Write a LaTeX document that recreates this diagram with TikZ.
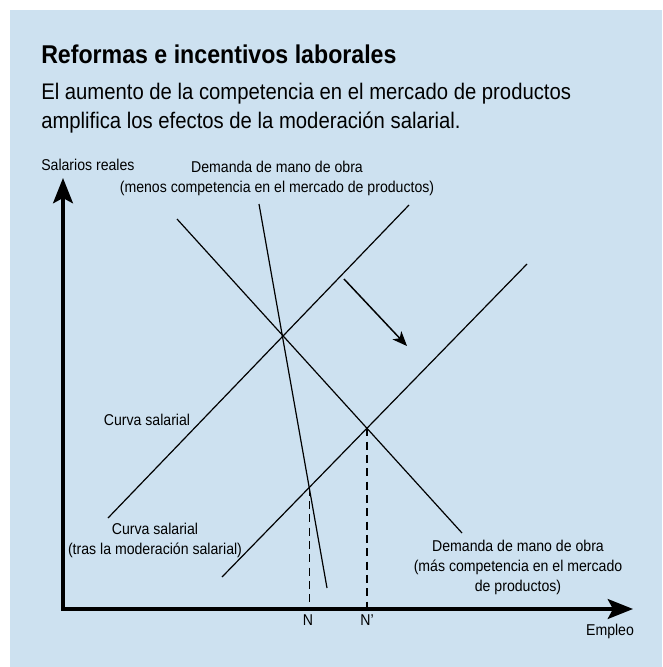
\documentclass[tikz,border=0pt]{standalone}
\usepackage{fontspec}
\setmainfont{Liberation Sans}[FakeStretch=0.9]
\usetikzlibrary{arrows.meta,intersections}
\definecolor{panelblue}{RGB}{205,225,240}
\tikzset{
  curve/.style={line width=0.9pt},
  axisline/.style={line width=2.3pt,{Stealth[length=19pt,width=15pt,inset=4pt]}-{Stealth[length=19pt,width=15pt,inset=4pt]}},
  shiftarrow/.style={line width=1.1pt,-{Stealth[length=11pt,width=9pt,inset=3pt]}},
  guide/.style={line width=0.9pt,dash pattern=on 6pt off 4pt},
  lbl/.style={inner sep=0pt,font=\fontsize{11.75}{15}\selectfont,align=center}
}
\begin{document}
\begin{tikzpicture}[x=0.75pt,y=0.75pt,yscale=-1,xscale=1]
    \useasboundingbox (0,0) rectangle (662,667);
    % panel
    \fill[panelblue] (10,10) rectangle (662,667);
    % Text Node
    \node[anchor=base west,inner sep=0pt,font=\fontsize{19.3}{23}\selectfont\bfseries] (title) at (41,64) {Reformas e incentivos laborales};
    % Text Node (base = last line)
    \node[anchor=base west,inner sep=0pt,align=left,font=\fontsize{16.9}{21.75}\selectfont] (intro) at (41,128) {El aumento de la competencia en el mercado de productos\\amplifica los efectos de la moderación salarial.};
    % axes
    \coordinate (origin) at (63,609);
    \coordinate (ytip) at (63,178);
    \coordinate (xtip) at (633,609);
    \draw[axisline] (ytip) -- (origin) -- (xtip);
    % Shape: demand and wage lines
    \coordinate (dsteepA) at (259,204);
    \coordinate (dsteepB) at (327,588);
    \coordinate (dflatA) at (177,219);
    \coordinate (dflatB) at (462,533);
    \coordinate (wageA) at (108,518);
    \coordinate (wageB) at (409,205);
    \coordinate (wagemodA) at (222,577);
    \coordinate (wagemodB) at (527,264);
    \draw[curve,name path=dsteep] (dsteepA) -- (dsteepB);
    \draw[curve,name path=dflat] (dflatA) -- (dflatB);
    \draw[curve] (wageA) -- (wageB);
    \draw[curve,name path=wagemod] (wagemodA) -- (wagemodB);
    % employment levels
    \path[name intersections={of=wagemod and dsteep,by=eqN}];
    \path[name intersections={of=wagemod and dflat,by=eqNp}];
    \draw[guide] (eqN) -- (eqN |- origin);
    \draw[guide] (eqNp) -- (eqNp |- origin);
    % shift arrow
    \coordinate (shiftA) at (344,279);
    \coordinate (shiftB) at (407,346);
    \draw[shiftarrow] (shiftA) -- (shiftB);
    % Text Node
    \node[lbl,anchor=base west] (ylabel) at (41,170) {Salarios reales};
    \node[lbl,anchor=base] (xlabel) at (610,635) {Empleo};
    \node[lbl,anchor=base] (dsteeplabel) at (277,192) {Demanda de mano de obra\\(menos competencia en el mercado de productos)};
    \node[lbl,anchor=base] (wagelabel) at (147,425) {Curva salarial};
    \node[lbl,anchor=base] (wagemodlabel) at (155,554) {Curva salarial\\(tras la moderación salarial)};
    \node[lbl,anchor=base] (dflatlabel) at (518,591) {Demanda de mano de obra\\(más competencia en el mercado\\de productos)};
    \node[lbl,anchor=base] (nlabel) at (308,625) {N};
    \node[lbl,anchor=base] (nplabel) at (367,625) {N’};
\end{tikzpicture}
\end{document}
